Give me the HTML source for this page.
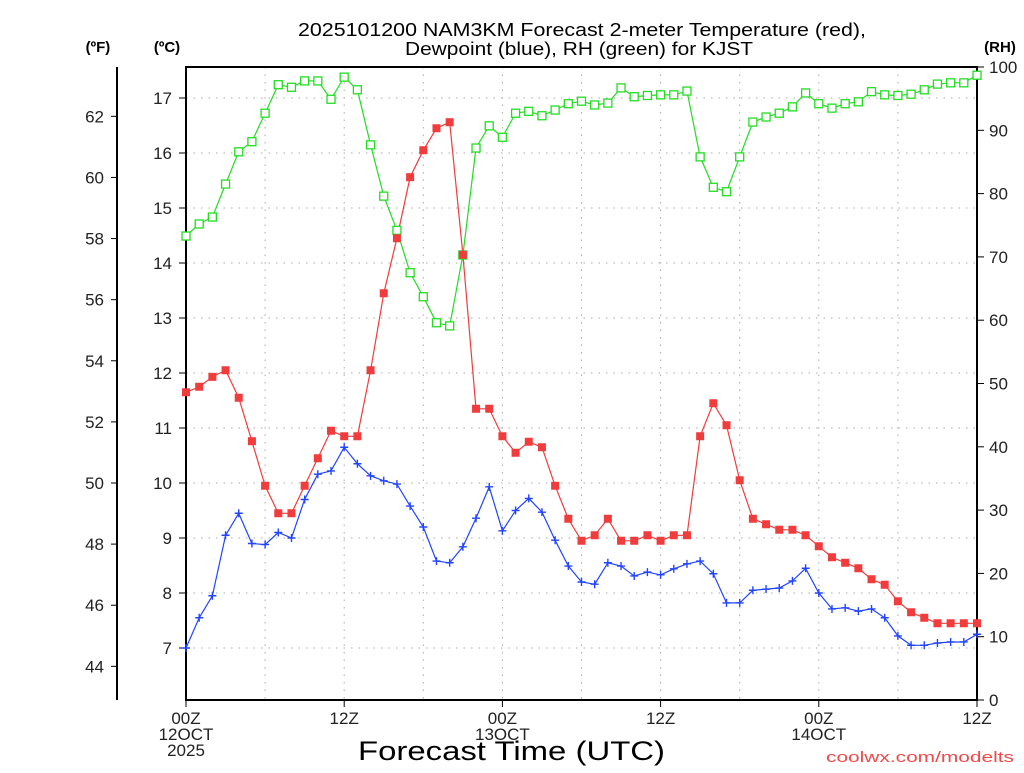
<!DOCTYPE html>
<html><head><meta charset="utf-8"><style>
body{margin:0;background:#fff;width:1024px;height:768px;overflow:hidden}
svg{font-family:"Liberation Sans",sans-serif}
</style></head><body>
<svg id="c" width="1024" height="768" xmlns="http://www.w3.org/2000/svg">
<text x="298" y="36" textLength="568" lengthAdjust="spacingAndGlyphs" font-size="18" fill="#000">2025101200 NAM3KM Forecast 2-meter Temperature (red),</text>
<text x="405" y="55" textLength="348" lengthAdjust="spacingAndGlyphs" font-size="18" fill="#000">Dewpoint (blue), RH (green) for KJST</text>
<text x="98" y="52" text-anchor="middle" font-size="15" font-weight="bold">(ºF)</text>
<text x="167" y="52" text-anchor="middle" font-size="15" font-weight="bold">(ºC)</text>
<text x="1000" y="52" text-anchor="middle" font-size="15" font-weight="bold">(RH)</text>
<text x="358" y="760" textLength="307" lengthAdjust="spacingAndGlyphs" font-size="27">Forecast Time (UTC)</text>
<text x="826" y="762" textLength="188" lengthAdjust="spacingAndGlyphs" font-size="15" fill="#f04848">coolwx.com/modelts</text>
<g id="grid"></g><g id="axes"></g><g id="series"></g>
</svg>
<script>
const tempC=[11.65,11.75,11.93,12.05,11.55,10.76,9.95,9.45,9.45,9.95,10.45,10.95,10.85,10.85,12.05,13.45,14.45,15.56,16.05,16.45,16.56,14.15,11.35,11.35,10.85,10.55,10.75,10.65,9.95,9.35,8.95,9.05,9.35,8.95,8.95,9.05,8.95,9.05,9.05,10.85,11.45,11.05,10.05,9.35,9.25,9.15,9.15,9.05,8.85,8.65,8.55,8.45,8.25,8.15,7.85,7.65,7.55,7.45,7.45,7.45,7.45];
const dewC=[7.0,7.55,7.95,9.05,9.45,8.9,8.88,9.1,9.0,9.7,10.16,10.22,10.65,10.35,10.13,10.04,9.98,9.58,9.2,8.58,8.55,8.84,9.36,9.93,9.13,9.5,9.72,9.47,8.96,8.49,8.2,8.16,8.55,8.49,8.31,8.38,8.33,8.44,8.53,8.58,8.35,7.82,7.82,8.05,8.07,8.09,8.22,8.45,8.0,7.71,7.73,7.67,7.71,7.55,7.22,7.05,7.05,7.09,7.11,7.11,7.25];
const rh=[73.3,75.2,76.3,81.5,86.6,88.2,92.7,97.2,96.8,97.8,97.8,94.9,98.4,96.4,87.7,79.6,74.2,67.5,63.7,59.6,59.1,70.3,87.2,90.7,88.9,92.7,93.0,92.3,93.2,94.2,94.6,94.0,94.3,96.7,95.3,95.5,95.6,95.6,96.2,85.8,81.0,80.3,85.8,91.3,92.1,92.7,93.7,95.9,94.2,93.5,94.2,94.5,96.1,95.6,95.5,95.7,96.4,97.3,97.5,97.5,98.7];
const cTicks=[7,8,9,10,11,12,13,14,15,16,17];
const fTicks=[44,46,48,50,52,54,56,58,60,62];
const rhTicks=[0,10,20,30,40,50,60,70,80,90,100];
const xTickHours=[0,12,24,36,48,60];
const xTickLabels=[["00Z","12OCT","2025"],["12Z"],["00Z","13OCT"],["12Z"],["00Z","14OCT"],["12Z"]];
const L=186,R=977,T=67,B=700;
const xs=h=>L+(R-L)*h/60;
const yc=c=>98+(17-c)*55;
const yf=f=>yc((f-32)*5/9);
const yr=r=>B-(B-T)*r/100;
const NS="http://www.w3.org/2000/svg";
function mk(tag,attrs,parent){const e=document.createElementNS(NS,tag);for(const k in attrs)e.setAttribute(k,attrs[k]);parent.appendChild(e);return e;}
const grid=document.getElementById('grid'),axes=document.getElementById('axes'),ser=document.getElementById('series');
cTicks.forEach(c=>{const y=yc(c);
 const g=mk('line',{x1:L,x2:R,y1:y,y2:y,stroke:'#aaa','stroke-dasharray':'1.5,6'},grid);
 
 
 mk('line',{x1:L-7,x2:L,y1:y,y2:y,stroke:'#000'},axes);
 const t=mk('text',{x:L-14,y:y+6,'text-anchor':'end','font-size':'17',fill:'#222'},axes);t.textContent=c;
 
 });
for(let h=6;h<60;h+=6){const x=xs(h);
 const g=mk('line',{x1:x,x2:x,y1:T,y2:B,stroke:'#aaa','stroke-dasharray':'1.5,6'},grid);
 
 }
mk('line',{x1:117,x2:117,y1:T,y2:B,stroke:'#000','stroke-width':2},axes);
fTicks.forEach(f=>{const y=yf(f);mk('line',{x1:111,x2:117,y1:y,y2:y,stroke:'#000'},axes);
 const t=mk('text',{x:104,y:y+6,'text-anchor':'end','font-size':'17',fill:'#222'},axes);t.textContent=f;
 
 });
rhTicks.forEach(r=>{const y=yr(r);mk('line',{x1:R,x2:R+7,y1:y,y2:y,stroke:'#000'},axes);
 const t=mk('text',{x:R+12,y:y+6,'font-size':'17',fill:'#222'},axes);t.textContent=r;
 
 });
xTickHours.forEach((h,i)=>{const x=xs(h);mk('line',{x1:x,x2:x,y1:B,y2:B+7,stroke:'#000'},axes);
 xTickLabels[i].forEach((s,j)=>{const t=mk('text',{x:x,y:B+24+j*16,'text-anchor':'middle','font-size':'17',fill:'#222'},axes);t.textContent=s;
 
 });});
const fr=mk('rect',{x:L,y:T,width:R-L,height:B-T,fill:'none',stroke:'#000','stroke-width':2},axes);


function line(arr,yf2,col,name){const p=arr.map((v,i)=>xs(i).toFixed(1)+','+yf2(v).toFixed(1)).join(' ');
 const l=mk('polyline',{points:p,fill:'none',stroke:col,'stroke-width':1.2},ser);
 
 }
line(rh,yr,'#22dd22','rh-line');
line(tempC,yc,'#f03c3c','temperature-line');
line(dewC,yc,'#2244ff','dewpoint-line');
rh.forEach((v,i)=>{const m=mk('rect',{x:xs(i)-4,y:yr(v)-4,width:8,height:8,fill:'#fff',stroke:'#22dd22','stroke-width':1.3},ser);
 
 });
tempC.forEach((v,i)=>{const m=mk('rect',{x:xs(i)-4,y:yc(v)-4,width:8,height:8,fill:'#f03c3c'},ser);
 
 });
dewC.forEach((v,i)=>{const x=xs(i),y=yc(v);const m=mk('path',{d:`M${x-4},${y}H${x+4}M${x},${y-4}V${y+4}`,stroke:'#2244ff','stroke-width':1.4},ser);
 
 });
</script>
</body></html>
